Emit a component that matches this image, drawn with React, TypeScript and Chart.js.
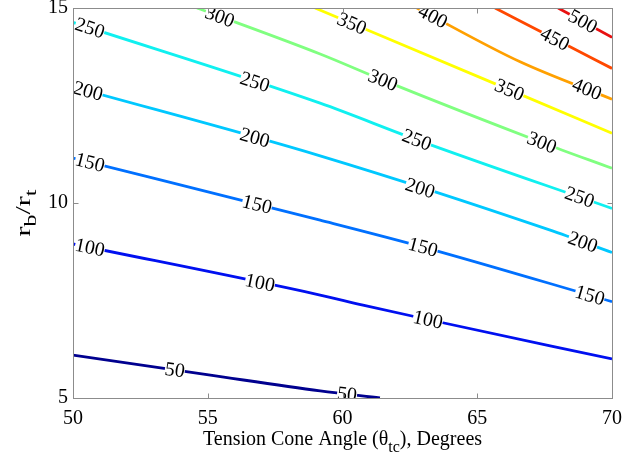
import React, { useEffect, useRef } from "react";
import { Chart, registerables } from "chart.js";

Chart.register(...registerables);

// Contour levels and their colours
const contourLevels = [50, 100, 150, 200, 250, 300, 350, 400, 450, 500];
const levelColors = [
  "#00008f", "#0010f0", "#0070ff", "#00c8ff", "#10f0f0",
  "#80ff80", "#ffff00", "#ffa000", "#ff4800", "#e81010",
];

// Contour lines: tension cone angle (deg) vs r_b/r_t
const angle50 = [50, 54.97, 59.17, 61.39];
const ratio50 = [6.1, 5.6, 5.18, 5.0];
const angle100 = [50, 59.17, 60.76, 63.25, 70];
const ratio100 = [8.95, 7.64, 7.38, 7.0, 6.0];
const angle150 = [50, 59.17, 62.99, 70];
const ratio150 = [11.15, 9.56, 8.87, 7.47];
const angle200 = [50, 59.17, 67.68, 70];
const ratio200 = [12.98, 11.21, 9.31, 8.73];
const angle250 = [50, 59.17, 62.76, 70];
const ratio250 = [14.63, 12.56, 11.62, 9.86];
const angle300 = [54.6, 59.17, 61.5, 67.44, 70];
const ratio300 = [15, 13.82, 13.15, 11.54, 10.89];
const angle350 = [58.98, 66.2, 70];
const ratio350 = [15, 12.9, 11.79];
const angle400 = [62.76, 66.59, 70];
const ratio400 = [15, 13.62, 12.66];
const angle450 = [65.66, 67.96, 70];
const ratio450 = [15, 14.18, 13.45];
const angle500 = [68.0, 70];
const ratio500 = [15, 14.25];

// Angles at which each contour carries an inline label
const labelAt50 = [53.78, 60.17];
const labelAt100 = [50.63, 56.94, 63.17];
const labelAt150 = [50.63, 56.83, 62.99, 69.18];
const labelAt200 = [50.56, 56.75, 62.88, 68.92];
const labelAt250 = [50.63, 56.75, 62.76, 68.8];
const labelAt300 = [55.45, 61.5, 67.4];
const labelAt350 = [60.35, 66.2];
const labelAt400 = [63.36, 69.07];
const labelAt450 = [67.88];
const labelAt500 = [68.92];

const xTicks = [50, 55, 60, 65, 70];
const yTicks = [5, 10, 15];

const angles = [angle50, angle100, angle150, angle200, angle250, angle300, angle350, angle400, angle450, angle500];
const ratios = [ratio50, ratio100, ratio150, ratio200, ratio250, ratio300, ratio350, ratio400, ratio450, ratio500];
const labelAts = [labelAt50, labelAt100, labelAt150, labelAt200, labelAt250, labelAt300, labelAt350, labelAt400, labelAt450, labelAt500];

const FONT = '"Liberation Serif", "Times New Roman", serif';

const decorPlugin = {
  id: "decor",
  afterDatasetsDraw(chart: any) {
    const { ctx, chartArea } = chart;
    const xs = chart.scales.x;
    const ys = chart.scales.y;
    // contour labels
    ctx.save();
    ctx.beginPath();
    ctx.rect(chartArea.left, chartArea.top, chartArea.right - chartArea.left, chartArea.bottom - chartArea.top);
    ctx.clip();
    ctx.font = `20px ${FONT}`;
    ctx.textAlign = "center";
    ctx.textBaseline = "middle";
    contourLevels.forEach((lvl, i) => {
      const ax = angles[i];
      const ry = ratios[i];
      labelAts[i].forEach((a) => {
        let k = 0;
        while (k < ax.length - 2 && a > ax[k + 1]) k++;
        const t = (a - ax[k]) / (ax[k + 1] - ax[k]);
        const r = ry[k] + t * (ry[k + 1] - ry[k]);
        const px = xs.getPixelForValue(a);
        const py = ys.getPixelForValue(r);
        const dx = xs.getPixelForValue(ax[k + 1]) - xs.getPixelForValue(ax[k]);
        const dy = ys.getPixelForValue(ry[k + 1]) - ys.getPixelForValue(ry[k]);
        const ang = Math.atan2(dy, dx);
        const text = String(lvl);
        const w = ctx.measureText(text).width;
        ctx.save();
        ctx.translate(px, py);
        ctx.rotate(ang);
        ctx.fillStyle = "#ffffff";
        ctx.fillRect(-w / 2, -6, w, 12);
        ctx.fillStyle = "#000000";
        ctx.fillText(text, 0, 1);
        ctx.restore();
      });
    });
    ctx.restore();

    // box and inward ticks
    ctx.save();
    ctx.strokeStyle = "#8c8c8c";
    ctx.lineWidth = 1;
    const L = Math.round(chartArea.left) + 0.5;
    const R = Math.round(chartArea.right) + 0.5;
    const T = Math.round(chartArea.top) + 0.5;
    const B = Math.round(chartArea.bottom) + 0.5;
    ctx.strokeRect(L, T, R - L, B - T);
    ctx.beginPath();
    xTicks.slice(1, -1).forEach((v) => {
      const p = Math.round(xs.getPixelForValue(v)) + 0.5;
      ctx.moveTo(p, B); ctx.lineTo(p, B - 5);
      ctx.moveTo(p, T); ctx.lineTo(p, T + 5);
    });
    yTicks.slice(1, -1).forEach((v) => {
      const p = Math.round(ys.getPixelForValue(v)) + 0.5;
      ctx.moveTo(L, p); ctx.lineTo(L + 5, p);
      ctx.moveTo(R, p); ctx.lineTo(R - 5, p);
    });
    ctx.stroke();
    ctx.restore();

    // x title with subscript
    ctx.save();
    ctx.fillStyle = "#000";
    ctx.textBaseline = "alphabetic";
    ctx.textAlign = "left";
    const p1 = "Tension Cone Angle (\u03b8";
    const p2 = "tc";
    const p3 = "), Degrees";
    ctx.font = `20px ${FONT}`;
    const w1 = ctx.measureText(p1).width;
    const w3 = ctx.measureText(p3).width;
    ctx.font = `16px ${FONT}`;
    const w2 = ctx.measureText(p2).width;
    const cx = (chartArea.left + chartArea.right) / 2;
    const x0 = cx - (w1 + w2 + w3) / 2;
    const by = 445;
    ctx.font = `20px ${FONT}`;
    ctx.fillText(p1, x0, by);
    ctx.font = `16px ${FONT}`;
    ctx.fillText(p2, x0 + w1, by + 7);
    ctx.font = `20px ${FONT}`;
    ctx.fillText(p3, x0 + w1 + w2, by);
    ctx.restore();

    // y title r_b / r_t
    ctx.save();
    ctx.fillStyle = "#000";
    ctx.translate(30, 213);
    ctx.rotate(-Math.PI / 2);
    ctx.scale(1.5, 1);
    ctx.textBaseline = "alphabetic";
    ctx.textAlign = "left";
    const parts = [
      { t: "r", s: 20, d: 0 },
      { t: "b", s: 16, d: 6 },
      { t: "/", s: 20, d: 0 },
      { t: "r", s: 20, d: 0 },
      { t: "t", s: 16, d: 6 },
    ];
    let tot = 0;
    parts.forEach((p) => { ctx.font = `${p.s}px ${FONT}`; tot += ctx.measureText(p.t).width; });
    let xx = -tot / 2;
    parts.forEach((p) => {
      ctx.font = `${p.s}px ${FONT}`;
      ctx.fillText(p.t, xx, p.d);
      xx += ctx.measureText(p.t).width;
    });
    ctx.restore();
  },
};

export default function App() {
  const ref = useRef<HTMLCanvasElement | null>(null);
  useEffect(() => {
    document.body.style.margin = "0";
    if (!ref.current) return;
    const datasets = contourLevels.map((lvl, i) => ({
      label: String(lvl),
      data: angles[i].map((a, j) => ({ x: a, y: ratios[i][j] })),
      showLine: true,
      borderColor: levelColors[i],
      backgroundColor: levelColors[i],
      borderWidth: 2.8,
      pointRadius: 0,
      cubicInterpolationMode: "monotone" as const,
      fill: false,
    }));
    const chart = new Chart(ref.current, {
      type: "scatter",
      data: { datasets },
      options: {
        animation: false,
        responsive: false,
        layout: { padding: { top: 8, right: 29, left: 0, bottom: 0 } },
        plugins: { legend: { display: false }, tooltip: { enabled: false } },
        scales: {
          x: {
            type: "linear",
            min: 50,
            max: 70,
            afterBuildTicks: (s: any) => { s.ticks = xTicks.map((v) => ({ value: v })); },
            ticks: { font: { family: FONT, size: 20 }, color: "#000", padding: 9, maxRotation: 0 },
            grid: { display: false, drawTicks: false },
            border: { display: false },
            afterFit: (s: any) => { s.height = 59; s.paddingLeft = 0; s.paddingRight = 0; },
          },
          y: {
            type: "linear",
            min: 5,
            max: 15,
            afterBuildTicks: (s: any) => { s.ticks = yTicks.map((v) => ({ value: v })); },
            ticks: { font: { family: FONT, size: 20 }, color: "#000", padding: 5 },
            grid: { display: false, drawTicks: false },
            border: { display: false },
            afterFit: (s: any) => { s.width = 73; s.paddingTop = 0; s.paddingBottom = 0; },
          },
        },
      },
      plugins: [decorPlugin],
    });
    return () => chart.destroy();
  }, []);
  return (
    <div style={{ width: 641, height: 457, background: "#fff" }}>
      <canvas ref={ref} width={641} height={457} style={{ display: "block" }} />
    </div>
  );
}
